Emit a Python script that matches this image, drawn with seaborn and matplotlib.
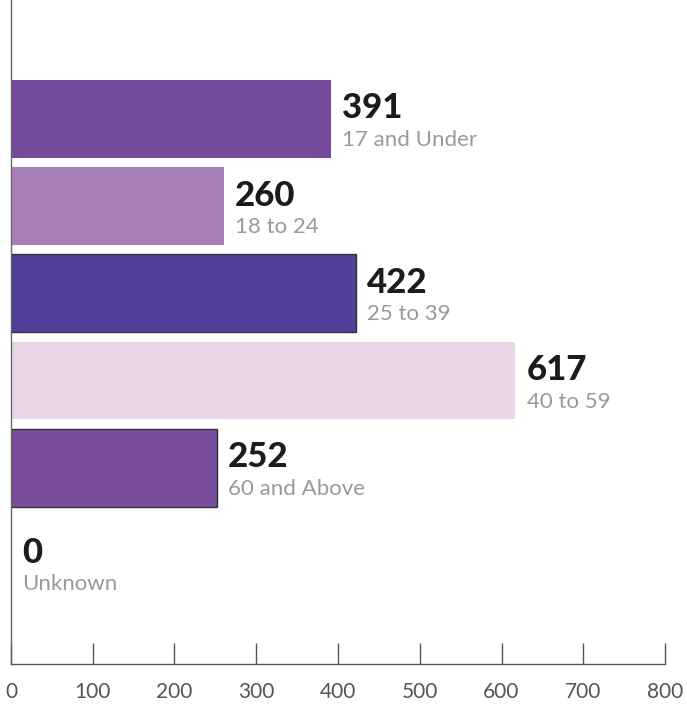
import matplotlib
matplotlib.use("Agg")
import matplotlib.pyplot as plt
import pandas as pd
import seaborn as sns

# data
age_groups = ["17 and Under", "18 to 24", "25 to 39", "40 to 59", "60 and Above", "Unknown"]
counts = [391, 260, 422, 617, 252, 0]
x_ticks = [0, 100, 200, 300, 400, 500, 600, 700, 800]

# styles
bar_colors = ["#744a9c", "#a67fb9", "#523f98", "#e6d6e8", "#784e9c", "#784e9c"]
bar_edges = ["none", "none", "#333333", "none", "#333333", "none"]

sns.set_theme(style="white")
plt.rcParams["font.family"] = ["Lato", "DejaVu Sans"]

df = pd.DataFrame({"group": age_groups, "count": counts})

fig = plt.figure(figsize=(6.87, 7.05), dpi=100)
ax = fig.add_axes([0.016, 0.058, 0.952, 0.942])

sns.barplot(data=df, x="count", y="group", hue="group", palette=bar_colors,
            legend=False, orient="h", width=0.89, saturation=1, ax=ax)

for patch, ec in zip(ax.patches, bar_edges):
    if ec != "none":
        patch.set_edgecolor(ec)
        patch.set_linewidth(1.0)
    else:
        patch.set_linewidth(0)

for i, (grp, val) in enumerate(zip(age_groups, counts)):
    # the empty "Unknown" row sits a little lower in the original
    dy = -6 if val == 0 else 0
    ax.annotate(str(val), (val, i), xytext=(8, -4 + dy), textcoords="offset points",
                ha="left", va="bottom", fontsize=25, fontweight="black",
                color="#1e1b1d")
    ax.annotate(grp, (val, i), xytext=(8, -8 + dy), textcoords="offset points",
                ha="left", va="top", fontsize=16, color="#9a9a9a")

ax.set_xlim(0, 800)
ax.set_ylim(6.25, -1.36)
ax.set_xticks(x_ticks)
ax.set_xticklabels([str(t) for t in x_ticks], fontsize=15, color="#555555")
ax.tick_params(axis="x", direction="in", length=15, width=1, color="#555555",
               pad=13, bottom=True)
ax.tick_params(axis="y", left=False, labelleft=False)
ax.set_xlabel("")
ax.set_ylabel("")

for side in ["top", "right"]:
    ax.spines[side].set_visible(False)
ax.spines["left"].set_color("#666666")
ax.spines["bottom"].set_color("#555555")
ax.spines["left"].set_linewidth(1)
ax.spines["bottom"].set_linewidth(1)

fig.savefig("out.png", dpi=100)
